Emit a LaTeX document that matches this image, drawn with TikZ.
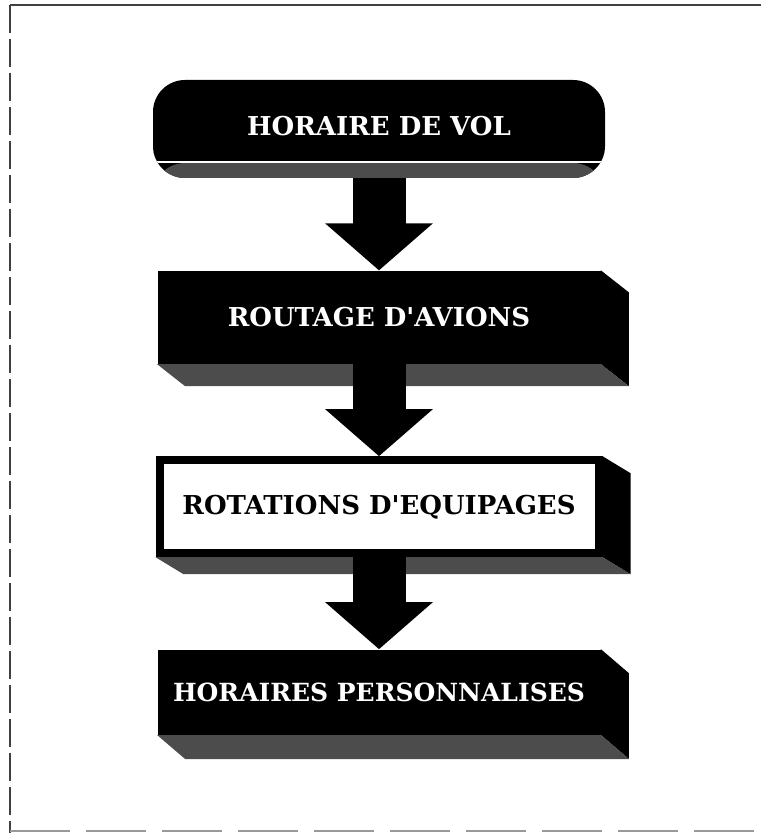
\documentclass[tikz,border=0pt]{standalone}
\usepackage{fontspec}
\setmainfont{DejaVu Serif}
\usetikzlibrary{positioning,arrows.meta}

\begin{document}
\begin{tikzpicture}[
    x=0.5pt, y=0.5pt,
    node distance=46pt,
    every node/.style={font=\bfseries\fontsize{13}{15}\selectfont},
    box/.style={fill=black, text=white, align=center, minimum width=221.5pt, minimum height=46.5pt, inner sep=0pt},
    litebox/.style={draw=black, line width=4pt, fill=white, text=black, align=center, minimum width=219.5pt, minimum height=46.5pt, inner sep=0pt},
    side/.style={fill=black},
    base/.style={fill=black!70},
    frame/.style={line width=0.6pt, black!75},
    arrow/.style={line width=26.5pt, -{Triangle[length=23.5pt, width=52.5pt]}}
  ]
    \useasboundingbox (0,0) rectangle (761,-833);
    % page frame
    \draw[frame] (761,-5) -- (10,-5);
    \draw[frame, dash pattern=on 14pt off 3pt] (10,-5) -- (10,-833);
    \draw[frame, black!40, dash pattern=on 30pt off 8pt] (10,-831) -- (761,-831);

    \node[box, rounded corners=16pt, minimum width=226pt, minimum height=49pt,
      path picture={
        \fill[black!70] (path picture bounding box.south west) rectangle ([yshift=7.5pt]path picture bounding box.south east);
        \draw[white, line width=0.8pt] ([yshift=8pt]path picture bounding box.south west) -- ([yshift=8pt]path picture bounding box.south east);
      }] (vol) at (379,-129) {\raisebox{3pt}{HORAIRE DE VOL}};
    \node[box, below=of vol] (routage) {ROUTAGE D\textquotesingle AVIONS};
    \node[litebox, below=of routage] (rotation) {ROTATIONS D\textquotesingle EQUIPAGES};
    \node[box, below=of rotation, minimum height=42.5pt, font=\bfseries\fontsize{12.5}{15}\selectfont] (perso) {HORAIRES PERSONNALISES};

    % 3d sides
    \foreach \n/\d in {routage/22, rotation/17, perso/24} {
      \fill[side] (\n.north east) -- ++(28,-\d) -- ([shift={(28,-\d)}]\n.south east) -- (\n.south east) -- cycle;
      \fill[base] (\n.south west) -- (\n.south east) -- ++(28,-\d) -- ([shift={(28,-\d)}]\n.south west) -- cycle;
    }

    \draw[arrow] (vol) -- (routage);
    \draw[arrow] (routage) -- (rotation);
    \draw[arrow] (rotation) -- (perso);
  \end{tikzpicture}
\end{document}
